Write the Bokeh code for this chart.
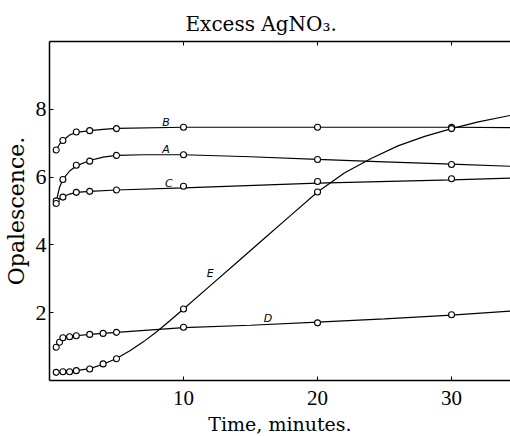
from bokeh.plotting import figure
from bokeh.models import Range1d, LinearAxis, FixedTicker, Label, Title
from bokeh.embed import file_html
from bokeh.resources import INLINE

# observed points (time in minutes, opalescence)
B_t = [0.5, 1, 2, 3, 5, 10, 20, 30]
B_v = [6.8, 7.08, 7.33, 7.37, 7.43, 7.47, 7.47, 7.47]
A_t = [0.5, 1, 2, 3, 5, 10, 20, 30]
A_v = [5.3, 5.93, 6.35, 6.47, 6.64, 6.66, 6.52, 6.37]
C_t = [0.5, 1, 2, 3, 5, 10, 20, 30]
C_v = [5.22, 5.41, 5.55, 5.58, 5.62, 5.73, 5.87, 5.95]
D_t = [0.5, 0.75, 1, 1.5, 2, 3, 4, 5, 10, 20, 30]
D_v = [0.98, 1.13, 1.26, 1.29, 1.32, 1.36, 1.39, 1.42, 1.57, 1.70, 1.94]
E_t = [0.5, 1, 1.5, 2, 3, 4, 5, 10, 20, 30]
E_v = [0.24, 0.26, 0.26, 0.29, 0.34, 0.49, 0.64, 2.11, 5.56, 7.43]

# drawn curves
B_curve_t = [0.5, 0.75, 1, 1.5, 2, 3, 4, 5, 10, 20, 30, 34.4]
B_curve_v = [6.8, 6.97, 7.08, 7.24, 7.32, 7.37, 7.41, 7.44, 7.47, 7.47, 7.47, 7.46]
A_curve_t = [0.5, 0.6, 0.75, 1, 1.5, 2, 3, 4, 5, 7, 10, 15, 20, 25, 30, 34.4]
A_curve_v = [5.25, 5.45, 5.7, 5.93, 6.18, 6.33, 6.49, 6.59, 6.64, 6.66, 6.66, 6.6, 6.52, 6.45, 6.38, 6.32]
C_curve_t = [0.5, 0.75, 1, 1.5, 2, 3, 5, 10, 20, 30, 34.4]
C_curve_v = [5.3, 5.37, 5.42, 5.5, 5.55, 5.58, 5.62, 5.68, 5.82, 5.92, 5.97]
D_curve_t = [0.5, 0.75, 1, 1.5, 2, 3, 4, 5, 10, 15, 20, 25, 30, 34.4]
D_curve_v = [0.98, 1.13, 1.24, 1.29, 1.32, 1.36, 1.39, 1.42, 1.56, 1.63, 1.72, 1.82, 1.93, 2.05]
E_curve_t = [0.5, 1, 1.5, 2, 3, 4, 5, 6, 7, 8, 9, 10, 12, 14, 16, 18, 20, 22, 24, 26, 28, 30, 32, 34.4]
E_curve_v = [0.22, 0.25, 0.27, 0.29, 0.35, 0.48, 0.65, 0.88, 1.14, 1.44, 1.77, 2.11, 2.8, 3.49,
             4.18, 4.87, 5.56, 6.12, 6.55, 6.92, 7.2, 7.43, 7.63, 7.82]

curve_names = ["A", "B", "C", "D", "E"]
label_t = [8.7, 8.7, 8.9, 16.3, 12.0]
label_v = [6.8, 7.6, 5.8, 1.82, 3.15]

x_ticks = [10, 20, 30]
y_ticks = [2, 4, 6, 8]

TICKFONT = "Liberation Serif"
LABELFONT = "DejaVu Serif"

p = figure(frame_width=461, frame_height=339, output_backend="svg", toolbar_location=None,
           x_range=Range1d(0, 34.4), y_range=Range1d(0, 10),
           min_border_left=49, min_border_right=0, min_border_top=41, min_border_bottom=0)
p.outline_line_color = None
p.grid.visible = False
p.background_fill_color = "white"
p.border_fill_color = "white"

p.title = Title(text="Excess AgNO₃.", align="left", offset=136, text_font=LABELFONT,
                text_font_size="20px", text_font_style="normal", text_color="black",
                standoff=12)

for ax in [p.xaxis[0], p.yaxis[0]]:
    ax.major_label_text_font = TICKFONT
    ax.major_label_text_color = "black"
    ax.axis_label_text_font = LABELFONT
    ax.axis_label_text_font_style = "normal"
    ax.axis_label_text_color = "black"
    ax.axis_line_color = "black"
    ax.axis_line_width = 1.5
    ax.major_tick_in = 4
    ax.major_tick_out = 0
    ax.major_tick_line_color = "black"
    ax.minor_tick_line_color = None

p.xaxis[0].ticker = FixedTicker(ticks=x_ticks)
p.yaxis[0].ticker = FixedTicker(ticks=y_ticks)
p.xaxis[0].axis_label = "Time, minutes."
p.yaxis[0].axis_label = "Opalescence."
p.xaxis[0].major_label_text_font_size = "21px"
p.yaxis[0].major_label_text_font_size = "22px"
p.xaxis[0].axis_label_text_font_size = "19px"
p.yaxis[0].axis_label_text_font_size = "22px"
p.xaxis[0].major_label_standoff = 10
p.xaxis[0].axis_label_standoff = 5
p.yaxis[0].major_label_standoff = 3
p.yaxis[0].axis_label_standoff = 4

top = LinearAxis(ticker=FixedTicker(ticks=x_ticks), major_label_text_font_size="1px",
                 major_label_text_color=None,
                 major_tick_in=4, major_tick_out=0, minor_tick_line_color=None,
                 axis_line_color="black", axis_line_width=1.5, major_label_standoff=0)
p.add_layout(top, "above")

curves = [(A_curve_t, A_curve_v), (B_curve_t, B_curve_v), (C_curve_t, C_curve_v),
          (D_curve_t, D_curve_v), (E_curve_t, E_curve_v)]
for ct, cv in curves:
    p.line(ct, cv, line_color="black", line_width=1.2)

points = [(A_t, A_v), (B_t, B_v), (C_t, C_v), (D_t, D_v), (E_t, E_v)]
for pt, pv in points:
    p.scatter(pt, pv, marker="circle", size=6, fill_color="white",
              line_color="black", line_width=1.1)

for name, lt, lv in zip(curve_names, label_t, label_v):
    p.add_layout(Label(x=lt, y=lv, text=name, text_font="DejaVu Sans",
                       text_font_style="italic", text_font_size="11px",
                       text_color="black", text_align="center", text_baseline="middle"))

open("out.html", "w").write(file_html(p, INLINE))
